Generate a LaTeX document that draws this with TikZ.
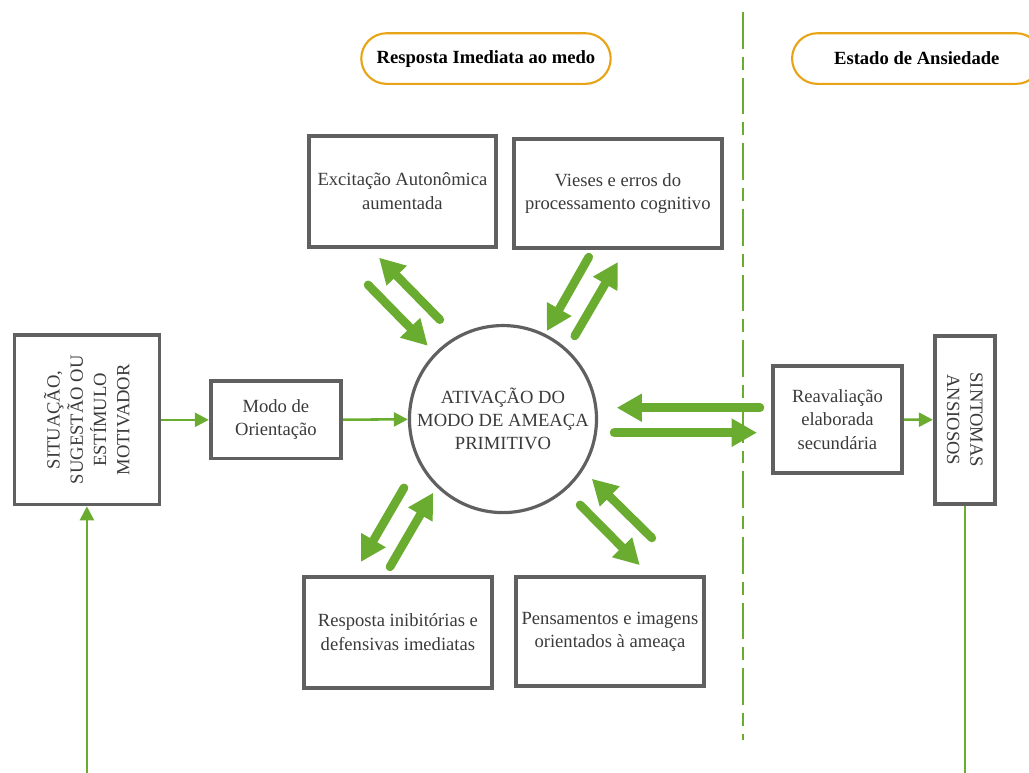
\documentclass[tikz,border=0pt]{standalone}
\usepackage{fontspec}
\setmainfont{Liberation Serif}
\usetikzlibrary{arrows.meta}
\definecolor{leaf}{RGB}{106, 172, 48}
\definecolor{slate}{RGB}{96, 96, 96}
\definecolor{ink}{RGB}{58, 58, 58}
\definecolor{amber}{RGB}{232, 163, 23}
\def\boxhigh{2.94cm}
\def\boxwide{4.98cm}
\def\fatback{19pt}
\def\fatspan{20pt}

\begin{document}
\begin{tikzpicture}[line width=0.7pt, line cap=round,
    every node/.style={font=\fontsize{14}{17.5}\selectfont, text=ink},
    stage/.style={draw=slate, line width=2.8pt, align=center, inner sep=2pt},
    badge/.style={draw=amber, line width=1.6pt, rounded corners=0.67cm,
        minimum width=6.6cm, minimum height=1.34cm,
        font=\fontsize{14}{17.5}\selectfont\bfseries, text=black},
    feed/.style={leaf, line width=1.9pt, line cap=butt, -{Triangle[length=10.5pt, width=10.5pt]}},
    fat/.style={leaf, line width=6.5pt, -{Triangle[length=\fatback, width=\fatspan]}},
    split/.style={leaf, line width=1.5pt, line cap=butt,
        dash pattern=on 27.7pt off 6pt on 9.7pt off 6pt}]

    \useasboundingbox (0, 0) rectangle (27.23, 20.45);

    % headings
    \node[badge] (hnow) at (12.86, 18.90) {Resposta Imediata ao medo};
    \node[badge] (hanx) at (24.26, 18.90) {Estado de Ansiedade};

    % left chain
    \node[stage, rotate=90, minimum width=4.48cm, minimum height=3.84cm] (sit) at (2.30, 9.34)
        {SITUAÇÃO,\\ SUGESTÃO OU\\ ESTÍMULO\\ MOTIVADOR};
    \node[stage, minimum width=3.45cm, minimum height=2.04cm] (modo) at (7.30, 9.34)
        {Modo de\\ Orientação};
    \node[stage, circle, line width=2.4pt, minimum size=4.95cm, inner sep=0pt] (circ) at (13.31, 9.36)
        {ATIVAÇÃO DO\\ MODO DE AMEAÇA\\ PRIMITIVO};

    % boxes round the threat mode
    \node[stage, minimum width=4.95cm, minimum height=\boxhigh] (exc) at (10.65, 15.39)
        {Excitação Autonômica\\ aumentada};
    \node[stage, minimum width=5.51cm, minimum height=2.89cm] (vies) at (16.35, 15.33)
        {Vieses e erros do\\ processamento cognitivo};
    \node[stage, minimum width=\boxwide, minimum height=\boxhigh] (resp) at (10.53, 3.72)
        {Resposta inibitórias e\\ defensivas imediatas};
    \node[stage, minimum width=\boxwide, minimum height=2.89cm] (pens) at (16.14, 3.74)
        {Pensamentos e imagens\\ orientados à ameaça};

    % right chain
    \node[stage, minimum width=3.42cm, minimum height=2.84cm] (reav) at (22.16, 9.35)
        {Reavaliação\\ elaborada\\ secundária};
    \node[stage, rotate=-90, minimum width=4.45cm, minimum height=1.59cm] (sint) at (25.53, 9.34)
        {SINTOMAS\\ ANSIOSOS};

    \coordinate (lowL) at (2.30, 0);
    \coordinate (lowR) at (25.53, 0);
    \coordinate (divtop) at (19.66, 20.13);
    \coordinate (divbot) at (19.66, 0.87);

    \draw[split] (divtop) -- (divbot);

    \draw[feed] (sit) -- (modo);
    \draw[feed] (modo) -- (circ);
    \draw[feed] (reav) -- (sint);
    \draw[feed] (lowL) -- (sit);
    \draw[feed, -] (sint) -- (lowR);

    % two-way arrows
    \draw[fat] ([shift={(-0.91, -0.96)}]exc.south) -- ([shift={(-1.99, 1.94)}]circ.center);
    \draw[fat] ([shift={(-1.67, 2.63)}]circ.center) -- ([shift={(-0.62, -0.24)}]exc.south);

    \draw[fat] ([shift={(-0.77, -0.19)}]vies.south) -- ([shift={(1.16, 2.33)}]circ.center);
    \draw[fat] ([shift={(1.90, 2.20)}]circ.center) -- ([shift={(0, -0.32)}]vies.south);

    \draw[fat] ([shift={(-2.62, -1.82)}]circ.center) -- ([shift={(-0.98, 0.34)}]resp.north);
    \draw[fat] ([shift={(-0.21, 0.21)}]resp.north) -- ([shift={(-1.85, -1.95)}]circ.center);

    \draw[fat] ([shift={(1.11, 0.98)}]pens.north) -- ([shift={(2.35, -1.58)}]circ.center);
    \draw[fat] ([shift={(2.04, -2.27)}]circ.center) -- ([shift={(0.79, 0.26)}]pens.north);

    \draw[fat] ([shift={(-0.29, 0.31)}]reav.west) -- ([shift={(3.01, 0.30)}]circ.center);
    \draw[fat] ([shift={(2.94, -0.36)}]circ.center) -- ([shift={(-0.37, -0.35)}]reav.west);

\end{tikzpicture}
\end{document}
